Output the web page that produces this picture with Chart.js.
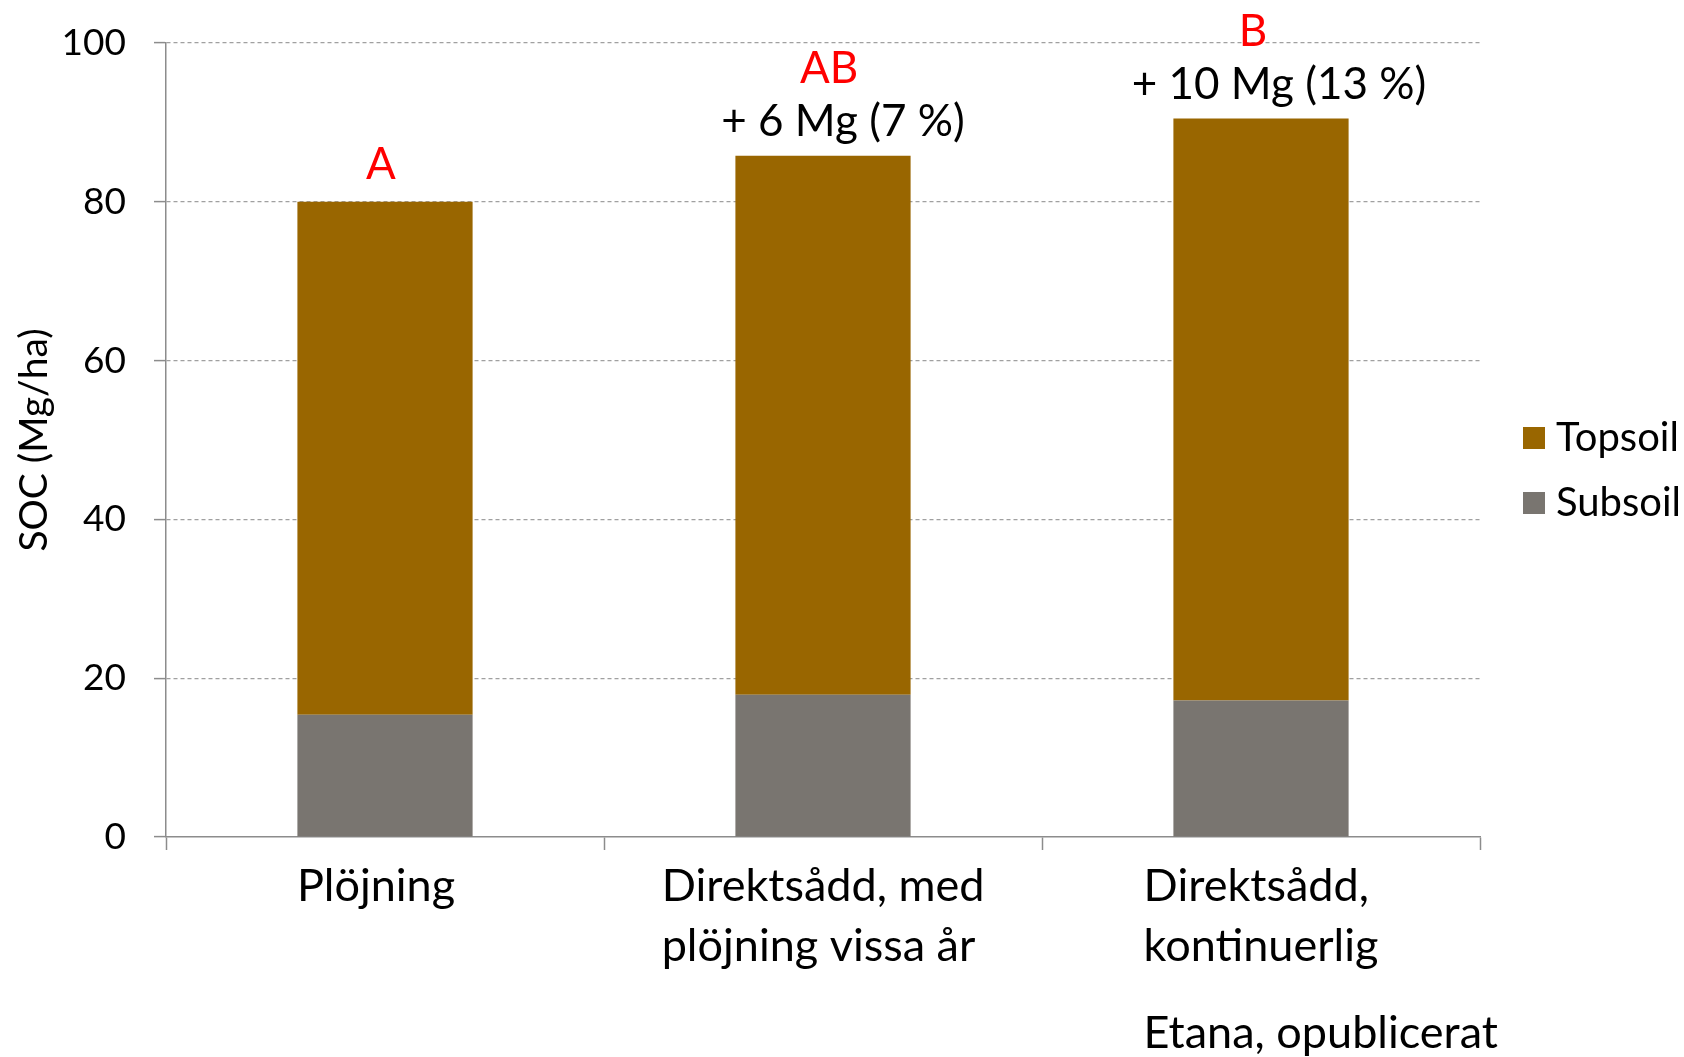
<!DOCTYPE html>
<html><head><meta charset="utf-8">
<script src="https://cdn.jsdelivr.net/npm/chart.js@4.4.1/dist/chart.umd.min.js"></script>
<style>html,body{margin:0;padding:0;background:#fff;}</style>
</head><body>
<canvas id="c" width="1684" height="1057"></canvas>
<script>
// ---- data ----
const categories = [["Plöjning"], ["Direktsådd, med", "plöjning vissa år"], ["Direktsådd,", "kontinuerlig"]];
const seriesNames = ["Subsoil", "Topsoil"];
const subsoil = [15.4, 17.9, 17.2];
const topsoil = [64.6, 67.9, 73.3];
const letters = ["A", "AB", "B"];
const gains = ["", "+ 6 Mg (7 %)", "+ 10 Mg (13 %)"];
const yMin = 0, yMax = 100, yStep = 20;
const yTitle = "SOC (Mg/ha)";
const sourceNote = "Etana, opublicerat";

// ---- style ----
const FONT = "Lato, 'Open Sans', sans-serif";
const colors = { Subsoil: "#797570", Topsoil: "#996600" };
const gainDx = [0, 20, 18];
const letterDx = [-4, 6, -8];
const catDx = [-9, 0, 0];

const labelsPlugin = {
  id: 'customText',
  afterDatasetsDraw(chart) {
    const ctx = chart.ctx, xs = chart.scales.x, ys = chart.scales.y, ca = chart.chartArea;
    ctx.save();
    // annotations above bars
    for (let i = 0; i < categories.length; i++) {
      const x = xs.getPixelForValue(i);
      const top = ys.getPixelForValue(subsoil[i] + topsoil[i]);
      ctx.textAlign = 'center'; ctx.textBaseline = 'middle';
      ctx.font = `44px ${FONT}`;
      if (gains[i]) {
        ctx.fillStyle = '#000';
        ctx.fillText(gains[i], x + gainDx[i], top - 34);
        ctx.fillStyle = '#ff0000';
        ctx.fillText(letters[i], x + letterDx[i], top - 87);
      } else {
        ctx.fillStyle = '#ff0000';
        ctx.fillText(letters[i], x + letterDx[i], top - 37);
      }
    }
    // category labels (left-aligned block centred on bar)
    ctx.font = `45px ${FONT}`;
    ctx.fillStyle = '#000';
    ctx.textAlign = 'left'; ctx.textBaseline = 'alphabetic';
    let lastLeft = 0;
    for (let i = 0; i < categories.length; i++) {
      const x = xs.getPixelForValue(i) + catDx[i];
      const lines = categories[i];
      const w = Math.max(...lines.map(l => ctx.measureText(l).width));
      const left = x - w / 2;
      lastLeft = left;
      lines.forEach((l, j) => ctx.fillText(l, left, ca.bottom + 64 + j * 60));
    }
    ctx.fillText(sourceNote, lastLeft, ca.bottom + 211);
    // y title
    ctx.save();
    ctx.translate(34, (ca.top + ca.bottom) / 2);
    ctx.rotate(-Math.PI / 2);
    ctx.textAlign = 'center'; ctx.textBaseline = 'middle';
    ctx.font = `39px ${FONT}`;
    ctx.fillText(yTitle, 0, 0);
    ctx.restore();
    // legend (Topsoil first)
    const cy = (ca.top + ca.bottom) / 2;
    const order = [...chart.data.datasets].reverse();
    order.forEach((ds, j) => {
      const y = cy - 2 + j * 65;
      ctx.fillStyle = ds.backgroundColor;
      ctx.fillRect(ca.right + 43, y - 11, 22, 22);
      ctx.fillStyle = '#000';
      ctx.font = `40px ${FONT}`;
      ctx.textAlign = 'left'; ctx.textBaseline = 'middle';
      ctx.fillText(ds.label, ca.right + 76, y);
    });
    ctx.restore();
  }
};

new Chart(document.getElementById('c'), {
  type: 'bar',
  data: {
    labels: categories,
    datasets: [
      { label: seriesNames[0], data: subsoil, backgroundColor: colors.Subsoil },
      { label: seriesNames[1], data: topsoil, backgroundColor: colors.Topsoil }
    ]
  },
  options: {
    responsive: false,
    animation: false,
    devicePixelRatio: 1,
    layout: { padding: { left: 0, top: 43, right: 204, bottom: 207 } },
    datasets: { bar: { barPercentage: 0.4, categoryPercentage: 1.0 } },
    plugins: { legend: { display: false }, tooltip: { enabled: false } },
    scales: {
      x: {
        stacked: true,
        offset: true,
        ticks: { display: false },
        grid: { display: true, offset: true, drawOnChartArea: false, drawTicks: true, tickLength: 13, tickColor: '#8c8c8c', tickWidth: 1.5 },
        border: { display: true, color: '#8c8c8c', width: 1.5 },
        afterFit: s => { s.height = 13; s.paddingLeft = 0; s.paddingRight = 0; }
      },
      y: {
        stacked: true,
        min: yMin, max: yMax,
        ticks: { stepSize: yStep, font: { family: FONT, size: 37 }, color: '#000', padding: 28 },
        grid: {
          color: c => (c.tick && c.tick.value === 0) ? 'rgba(0,0,0,0)' : '#a0a0a0',
          lineWidth: 1.2, tickLength: 12, tickColor: '#8c8c8c', tickWidth: 1.5
        },
        border: { display: true, color: '#8c8c8c', width: 1.5, dash: [4, 3] },
        afterFit: s => { s.width = 166; s.paddingTop = 0; s.paddingBottom = 0; }
      }
    }
  },
  plugins: [labelsPlugin]
});
</script>
</body></html>
